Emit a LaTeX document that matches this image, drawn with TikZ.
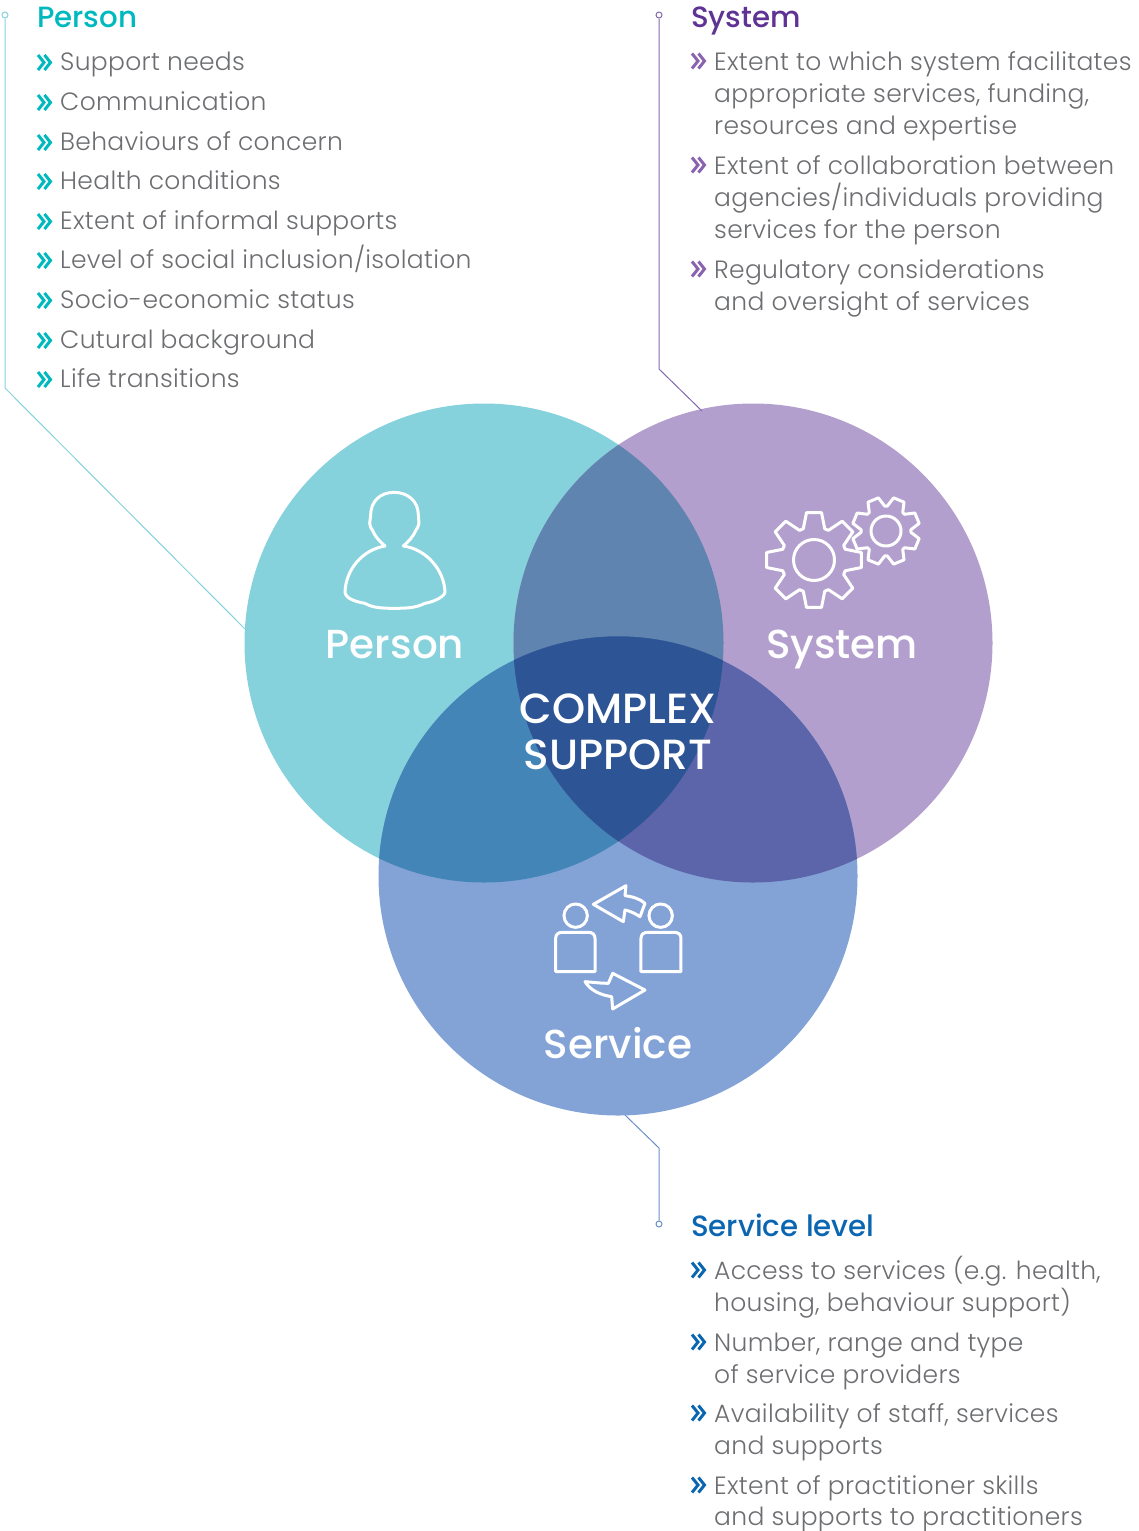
\documentclass[tikz,border=0pt]{standalone}
\usepackage{fontspec}
\setmainfont[LetterSpace=1.25]{Poppins Light}
\newfontfamily\headfont{Poppins Medium}
\usetikzlibrary{calc}
\definecolor{cperson}{HTML}{85D1DC}
\definecolor{csystem}{HTML}{B39FCD}
\definecolor{cservice}{HTML}{83A3D7}
\definecolor{cps}{HTML}{5F84B0}
\definecolor{cpv}{HTML}{4485B8}
\definecolor{csv}{HTML}{5C64AA}
\definecolor{ccentre}{HTML}{2D5494}
\definecolor{tgrey}{HTML}{6D6E71}
\definecolor{hperson}{HTML}{00B9BE}
\definecolor{hsystem}{HTML}{5E3393}
\definecolor{hservice}{HTML}{0B66B2}
\definecolor{msystem}{HTML}{8A63AE}
\definecolor{lsystem}{HTML}{8468AE}
\definecolor{lservice}{HTML}{6A8FC8}
\tikzset{
  venn/.style={circle,minimum size=479pt,inner sep=0pt,fill=#1},
  body/.style={anchor=base west,inner sep=0pt,text=tgrey,font=\fontsize{25}{25}\selectfont},
  chev/.style={draw=#1,line width=3pt,line join=miter},
  head/.style={anchor=base west,inner sep=0pt,text=#1,font=\headfont\fontsize{29.3}{29.3}\selectfont},
  big/.style={anchor=base,inner sep=0pt,text=white,font=\headfont\fontsize{40.5}{40.5}\selectfont},
  bigger/.style={anchor=base,inner sep=0pt,text=white,font=\headfont\fontsize{42.2}{42.2}\selectfont},
  icon/.style={draw=white,line width=3pt,line join=round},
  leader/.style={draw=#1,line width=1pt},
  dot/.style={circle,draw=#1,line width=1pt,minimum size=6pt,inner sep=0pt,fill=white},
}
% double chevron: colour, x of the text, y of the chevron's lower end
\newcommand\chv[3]{%
  \draw[chev=#1] (#2-22,#3-15) -- (#2-16,#3-7.5) -- (#2-22,#3);
  \draw[chev=#1] (#2-15.5,#3-15) -- (#2-9.5,#3-7.5) -- (#2-15.5,#3);}
\newcommand\txt[4]{\node[body] (t#1) at (#2,#3) {#4};}
\begin{document}
\begin{tikzpicture}[x=1pt,y=-1pt]
\useasboundingbox (0,0) rectangle (1139,1531);
% circles
\node[venn=cperson] (cp) at (484,643) {};
\node[venn=csystem] (cs) at (753,643) {};
\node[venn=cservice] (cv) at (618,876) {};
\begin{scope}\clip (484,643) circle (239.5pt);\fill[cps] (753,643) circle (239.5pt);\fill[cpv] (618,876) circle (239.5pt);
\clip (753,643) circle (239.5pt);\fill[ccentre] (618,876) circle (239.5pt);\end{scope}
\begin{scope}\clip (753,643) circle (239.5pt);\clip (618,876) circle (239.5pt);\fill[csv] (0,0) rectangle (1139,1531);
\clip (484,643) circle (239.5pt);\fill[ccentre] (0,0) rectangle (1139,1531);\end{scope}
% leaders
\node[dot=cperson] (dp) at (5,15) {};
\coordinate (kp) at (5,388);
\coordinate (ep) at (248,632);
\draw[leader=cperson] (dp) -- (kp) -- (ep);
\node[dot=lsystem] (ds) at (659,15) {};
\coordinate (ks) at (659,369);
\coordinate (es) at (702,411);
\draw[leader=lsystem] (ds) -- (ks) -- (es);
\node[dot=lservice] (dv) at (659,1224) {};
\coordinate (kv) at (659,1148);
\coordinate (ev) at (625,1115);
\draw[leader=lservice] (dv) -- (kv) -- (ev);
% person icon
\begin{scope}[shift={(320,470)},x=0.3333pt,y=-0.3333pt]
\draw[icon] (222,67) .. controls (265,67) and (295,95) .. (295,135) -- (297,160)
 .. controls (297,170) and (290,175) .. (288,180) .. controls (280,200) and (265,215) .. (250,228)
 .. controls (320,238) and (372,300) .. (375,365) .. controls (376,378) and (345,395) .. (315,400)
 .. controls (290,412) and (270,415) .. (222,415) .. controls (180,415) and (155,412) .. (135,400)
 .. controls (105,395) and (75,385) .. (75,365) .. controls (78,300) and (125,240) .. (195,228)
 .. controls (180,215) and (165,200) .. (157,180) .. controls (155,175) and (148,170) .. (149,160)
 -- (152,135) .. controls (152,95) and (180,67) .. (222,67) -- cycle;
\end{scope}
% gears
\begin{scope}[shift={(814,560)}]
\draw[icon] (0,0) circle (20.5pt);
\draw[icon] (71:33pt) -- (81:48pt) -- (99:48pt) -- (109:33pt)
 \foreach \a in {45,90,...,315} { -- ({71+\a}:33pt) -- ({81+\a}:48pt) -- ({99+\a}:48pt) -- ({109+\a}:33pt) } -- cycle;
\end{scope}
\begin{scope}[shift={(886,531)}]
\draw[icon] (0,0) circle (15pt);
\draw[icon] (93:25pt) -- (103:34pt) -- (122:34pt) -- (132:25pt)
 \foreach \a in {45,90,...,315} { -- ({93+\a}:25pt) -- ({103+\a}:34pt) -- ({122+\a}:34pt) -- ({132+\a}:25pt) } -- cycle;
\end{scope}
% service icon
\begin{scope}[shift={(540,875)},x=0.3333pt,y=-0.3333pt]
\draw[icon] (107,122) circle (11.7pt);
\draw[icon] (362,122) circle (11.7pt);
\draw[icon] (47,290) -- (47,190) .. controls (47,178) and (55,172) .. (67,172) -- (145,172) .. controls (157,172) and (165,178) .. (165,190) -- (165,290) -- cycle;
\draw[icon] (303,290) -- (303,190) .. controls (303,178) and (311,172) .. (323,172) -- (403,172) .. controls (415,172) and (423,178) .. (423,190) -- (423,290) -- cycle;
\draw[icon] (160,88) -- (258,32) -- (255,62) .. controls (280,65) and (300,72) .. (315,85) -- (300,125) .. controls (285,115) and (270,108) .. (255,105) -- (250,140) -- cycle;
\draw[icon] (315,345) -- (218,295) -- (205,325) .. controls (185,325) and (160,322) .. (135,320) .. controls (150,345) and (180,360) .. (215,365) -- (218,402) -- cycle;
\end{scope}
% circle labels
\node[big] (lp) at (395,658) {Person};
\node[big] (ls) at (842,658) {System};
\node[bigger] (lc) at (618,723) {COMPLEX};
\node[bigger] (ld) at (618,769) {SUPPORT};
\node[big] (lv) at (618,1058) {Service};
% Person list
\node[head=hperson] (hp) at (37,27.5) {Person};
\chv{hperson}{60}{70}\txt{a}{60}{70}{Support needs}
\chv{hperson}{60}{110}\txt{b}{60}{110}{Communication}
\chv{hperson}{60}{150}\txt{c}{60}{150}{Behaviours of concern}
\chv{hperson}{60}{189}\txt{d}{60}{189}{Health conditions}
\chv{hperson}{60}{229}\txt{e}{60}{229}{Extent of informal supports}
\chv{hperson}{60}{268}\txt{f}{60}{268}{Level of social inclusion/isolation}
\chv{hperson}{60}{308}\txt{g}{60}{308}{Socio-economic status}
\chv{hperson}{60}{348}\txt{h}{60}{348}{Cutural background}
\chv{hperson}{60}{387}\txt{i}{60}{387}{Life transitions}
% System list
\node[head=hsystem] (hs) at (691,27.5) {System};
\chv{msystem}{714}{68.5}\txt{j}{714}{70}{Extent to which system facilitates}
\txt{j2}{714}{102}{appropriate services, funding,}
\txt{j3}{714}{134}{resources and expertise}
\chv{msystem}{714}{172.5}\txt{k}{714}{174}{Extent of collaboration between}
\txt{k2}{714}{206}{agencies/individuals providing}
\txt{k3}{714}{238}{services for the person}
\chv{msystem}{714}{276.5}\txt{l}{714}{278}{Regulatory considerations}
\txt{l2}{714}{310}{and oversight of services}
% Service list
\node[head=hservice] (hv) at (691,1236.5) {Service level};
\chv{hservice}{714}{1277.5}\txt{n}{714}{1279}{Access to services (e.g. health,}
\txt{n2}{714}{1311}{housing, behaviour support)}
\chv{hservice}{714}{1349.5}\txt{o}{714}{1351}{Number, range and type}
\txt{o2}{714}{1383}{of service providers}
\chv{hservice}{714}{1420.5}\txt{p}{714}{1422}{Availability of staff, services}
\txt{p2}{714}{1454}{and supports}
\chv{hservice}{714}{1492.5}\txt{q}{714}{1494}{Extent of practitioner skills}
\txt{q2}{714}{1525}{and supports to practitioners}
\end{tikzpicture}
\end{document}
